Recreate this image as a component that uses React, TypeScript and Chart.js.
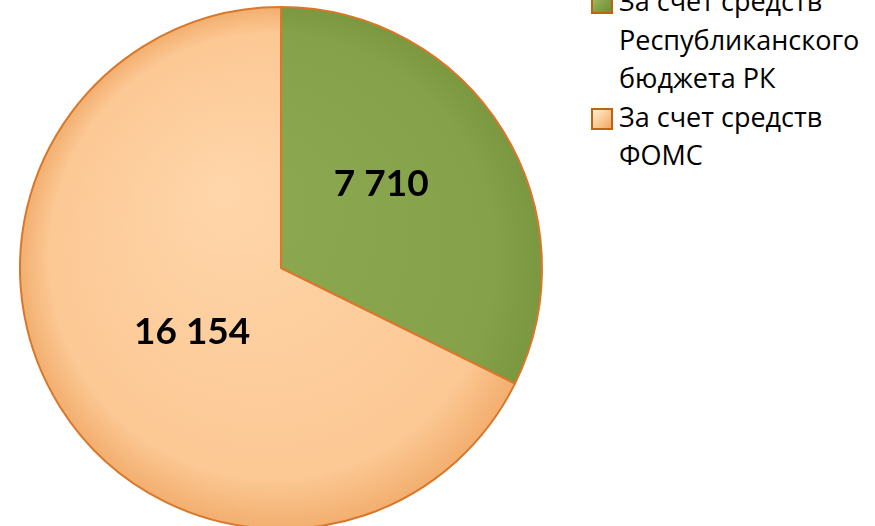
import React, { useEffect, useRef } from "react";
import { Chart, registerables } from "chart.js";

Chart.register(...registerables);

const categories = ["За счет средств Республиканского бюджета РК", "За счет средств ФОМС"];
const values = [7710, 16154];
const valueLabels = ["7 710", "16 154"];

const sliceColors = [
  ["#8DAA52", "#85A149", "#7A9840"],
  ["#FFD6AA", "#FCC894", "#F2AE6E"],
];
const labelPlacement = [
  { angle: -8, r: 0.5 },
  { angle: -4, r: 0.42 },
];

const labelPlugin = {
  id: "sliceLabels",
  afterDatasetsDraw(chart: any) {
    const ctx = chart.ctx;
    const meta = chart.getDatasetMeta(0);
    ctx.save();
    ctx.font = "bold 37px Lato";
    ctx.fillStyle = "#000";
    ctx.textAlign = "center";
    ctx.textBaseline = "middle";
    meta.data.forEach((arc: any, i: number) => {
      const p = labelPlacement[i];
      const mid = (arc.startAngle + arc.endAngle) / 2 + (p.angle * Math.PI) / 180;
      const r = arc.outerRadius * p.r;
      ctx.fillText(valueLabels[i], arc.x + Math.cos(mid) * r, arc.y + Math.sin(mid) * r);
    });
    ctx.restore();
  },
};

export default function App() {
  const ref = useRef<HTMLCanvasElement>(null);
  useEffect(() => {
    if (!ref.current) return;
    const chart = new Chart(ref.current, {
      type: "pie",
      data: {
        labels: categories,
        datasets: [
          {
            data: values,
            backgroundColor: (c: any) => {
              const i = c.dataIndex;
              const area = c.chart.chartArea;
              if (!area) return sliceColors[i][1];
              const cx = (area.left + area.right) / 2;
              const cy = (area.top + area.bottom) / 2;
              const g = c.chart.ctx.createRadialGradient(cx - 60, cy - 80, 0, cx, cy, 262);
              g.addColorStop(0, sliceColors[i][0]);
              g.addColorStop(0.85, sliceColors[i][1]);
              g.addColorStop(1, sliceColors[i][2]);
              return g;
            },
            borderColor: "#D9772A",
            borderWidth: 2,
            hoverOffset: 0,
          },
        ],
      },
      options: {
        animation: false,
        responsive: true,
        maintainAspectRatio: false,
        radius: 261,
        layout: { padding: 0 },
        plugins: {
          legend: { display: false },
          tooltip: { enabled: false },
        },
      } as any,
      plugins: [labelPlugin],
    });
    return () => chart.destroy();
  }, []);

  const markers = [
    "linear-gradient(135deg, #A9C46E 0%, #86A34A 50%, #6F8E38 100%)",
    "linear-gradient(135deg, #FFF0D6 0%, #FCCB98 50%, #F0A862 100%)",
  ];

  return (
    <div
      style={{
        position: "fixed",
        left: 0,
        top: 0,
        width: 875,
        height: 526,
        overflow: "hidden",
        background: "#fff",
      }}
    >
      <div style={{ position: "absolute", left: 0, top: 0, width: 562, height: 536 }}>
        <canvas ref={ref} />
      </div>
      <div
        style={{
          position: "absolute",
          left: 591,
          top: -18,
          fontFamily: "'Open Sans'",
          fontSize: 27,
          lineHeight: "38.5px",
          color: "#000",
        }}
      >
        {categories.map((c, i) => (
          <div key={i} style={{ position: "relative", paddingLeft: 28, width: 256 }}>
            <span
              style={{
                position: "absolute",
                left: 0,
                top: 10,
                width: 18,
                height: 18,
                border: "2px solid #C2620F",
                background: markers[i],
              }}
            />
            {c}
          </div>
        ))}
      </div>
    </div>
  );
}
